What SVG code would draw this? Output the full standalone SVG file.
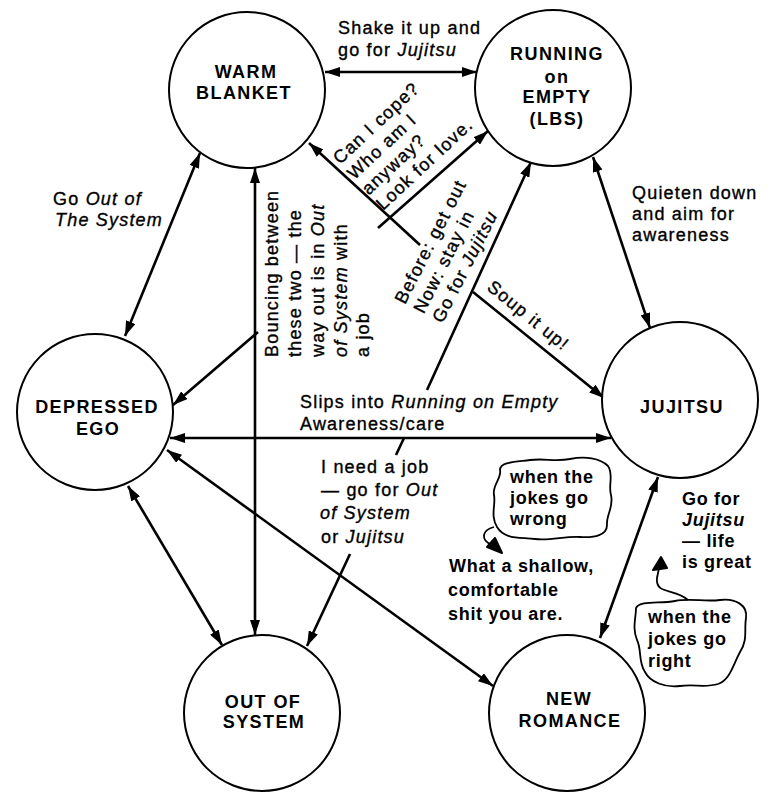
<svg xmlns="http://www.w3.org/2000/svg" width="773" height="792" viewBox="0 0 773 792">
<style>
.bg{fill:#fff}
.node circle{fill:#fff;stroke:#000;stroke-width:2}
.nl{font-family:"Liberation Sans",Arial,Helvetica,sans-serif;font-size:18px;font-weight:bold;letter-spacing:1.4px;text-anchor:middle;fill:#000}
.t{font-family:"Liberation Sans",Arial,Helvetica,sans-serif;font-size:18px;letter-spacing:1.2px;fill:#000;stroke:#000;stroke-width:0.35}
.b{font-weight:bold;stroke-width:0;letter-spacing:0.7px}
.i{font-style:italic}
.conn line,.conn path{stroke:#000;stroke-width:2.6;fill:none}
.cloud{fill:none;stroke:#000;stroke-width:1.8}
.tail{fill:none;stroke:#000;stroke-width:1.8}
.head{fill:#000;stroke:#000;stroke-width:2;stroke-linejoin:round}
</style>
<defs>
<marker id="ah" viewBox="0 0 15 10" refX="15" refY="5" markerWidth="15" markerHeight="10" markerUnits="userSpaceOnUse" orient="auto-start-reverse">
<path d="M0,0 L15,5 L0,10 z" fill="#000"/>
</marker>
</defs>
<rect class="bg" x="0" y="0" width="773" height="792"/>

<g class="conn">
<line x1="325" y1="72" x2="477" y2="72" marker-start="url(#ah)" marker-end="url(#ah)"/>
<line x1="200" y1="153" x2="125" y2="336" marker-start="url(#ah)" marker-end="url(#ah)"/>
<line x1="255" y1="168" x2="255" y2="635" marker-start="url(#ah)" marker-end="url(#ah)"/>
<line x1="309" y1="143" x2="420" y2="245" marker-start="url(#ah)"/>
<line x1="473" y1="292" x2="604" y2="398" marker-end="url(#ah)"/>
<line x1="258" y1="332" x2="173" y2="405" marker-end="url(#ah)"/>
<line x1="378" y1="228" x2="488" y2="131" marker-end="url(#ah)"/>
<line x1="427" y1="390" x2="531" y2="162" marker-end="url(#ah)"/>
<line x1="404" y1="438" x2="396" y2="455"/>
<line x1="350" y1="554" x2="307" y2="646" marker-end="url(#ah)"/>
<line x1="593" y1="157" x2="650" y2="328" marker-start="url(#ah)" marker-end="url(#ah)"/>
<line x1="170" y1="438" x2="611" y2="438" marker-start="url(#ah)" marker-end="url(#ah)"/>
<line x1="167" y1="450" x2="493" y2="686" marker-start="url(#ah)" marker-end="url(#ah)"/>
<line x1="128" y1="486" x2="222" y2="645" marker-start="url(#ah)" marker-end="url(#ah)"/>
<line x1="658" y1="477" x2="600" y2="638" marker-start="url(#ah)" marker-end="url(#ah)"/>
</g>

<g id="warm-blanket" class="node">
<circle cx="247" cy="90" r="78"/>
<text class="nl" x="246" y="78">WARM</text>
<text class="nl" x="244" y="99">BLANKET</text>
</g>
<g id="running-on-empty" class="node">
<circle cx="553" cy="88" r="78"/>
<text class="nl" x="557" y="60">RUNNING</text>
<text class="nl" x="557" y="83">on</text>
<text class="nl" x="557" y="103">EMPTY</text>
<text class="nl" x="557" y="125">(LBS)</text>
</g>
<g id="depressed-ego" class="node">
<circle cx="95" cy="412" r="78"/>
<text class="nl" x="97" y="413">DEPRESSED</text>
<text class="nl" x="98" y="435">EGO</text>
</g>
<g id="jujitsu" class="node">
<circle cx="680" cy="400" r="78"/>
<text class="nl" x="682" y="413">JUJITSU</text>
</g>
<g id="out-of-system" class="node">
<circle cx="262" cy="713" r="78"/>
<text class="nl" x="263" y="708">OUT OF</text>
<text class="nl" x="264" y="728">SYSTEM</text>
</g>
<g id="new-romance" class="node">
<circle cx="567" cy="713" r="78"/>
<text class="nl" x="569" y="705">NEW</text>
<text class="nl" x="570" y="727">ROMANCE</text>
</g>

<g id="labels">
<text class="t" x="338" y="34">Shake it up and</text>
<text class="t" x="338" y="56">go for <tspan class="i">Jujitsu</tspan></text>

<text class="t" x="53" y="205">Go <tspan class="i">Out of</tspan></text>
<text class="t i" x="55" y="226">The System</text>

<text class="t" x="632" y="199">Quieten down</text>
<text class="t" x="632" y="220">and aim for</text>
<text class="t" x="632" y="241">awareness</text>

<g transform="translate(340,165) rotate(-43)">
<text class="t" x="0" y="0">Can I cope?</text>
<text class="t" x="0" y="21">Who am I</text>
<text class="t" x="0" y="42">anyway?</text>
<text class="t" x="0" y="63">Look for love.</text>
</g>

<g transform="translate(405,305) rotate(-63)">
<text class="t" x="0" y="0">Before: get out</text>
<text class="t" x="0" y="21">Now: stay in</text>
<text class="t" x="0" y="42">Go for <tspan class="i">Jujitsu</tspan></text>
</g>

<g transform="translate(278,357) rotate(-90)">
<text class="t" x="0" y="0">Bouncing between</text>
<text class="t" x="0" y="23">these two — the</text>
<text class="t" x="0" y="46">way out is in <tspan class="i">Out</tspan></text>
<text class="t" x="0" y="69"><tspan class="i">of System</tspan> with</text>
<text class="t" x="0" y="91">a job</text>
</g>

<g transform="translate(486,289) rotate(39)">
<text class="t" x="0" y="0">Soup it up!</text>
</g>

<text class="t" x="300" y="408">Slips into <tspan class="i">Running on Empty</tspan></text>
<text class="t" x="300" y="430">Awareness/care</text>

<text class="t" x="321" y="473">I need a job</text>
<text class="t" x="321" y="496">— go for <tspan class="i">Out</tspan></text>
<text class="t i" x="320" y="519">of System</text>
<text class="t" x="321" y="543">or <tspan class="i">Jujitsu</tspan></text>

<text class="t b" x="682" y="505">Go for</text>
<text class="t b i" x="682" y="526">Jujitsu</text>
<text class="t b" x="682" y="547">— life</text>
<text class="t b" x="682" y="568">is great</text>

<text class="t b" x="449" y="572">What a shallow,</text>
<text class="t b" x="448" y="596">comfortable</text>
<text class="t b" x="448" y="620">shit you are.</text>
</g>

<g id="cloud-wrong">
<path class="cloud" d="M497,527 C490,515 496,505 494,495 C492,485 502,478 500,470 C500,462 515,462 530,460 C545,458 555,462 570,459 C585,456 600,458 608,466 C614,475 608,485 611,495 C614,507 606,515 607,525 C607,535 595,538 580,537 C565,536 550,541 535,539 C520,537 505,540 497,527 Z"/>
<path class="tail" d="M494,527 C482,530 480,540 492,545"/>
<polygon class="head" points="487,547 502,553 495,538"/>
<text class="t b" x="510" y="483">when the</text>
<text class="t b" x="510" y="504">jokes go</text>
<text class="t b" x="510" y="525">wrong</text>
</g>

<g id="cloud-right">
<path class="cloud" d="M636,608 C640,600 660,604 675,601 C690,598 705,602 720,600 C735,598 748,605 746,618 C744,630 748,640 740,652 C733,665 730,680 718,684 C705,688 695,684 680,686 C665,688 650,682 645,672 C638,662 642,650 637,640 C632,628 636,618 636,608 Z"/>
<path class="tail" d="M688,600 C675,588 655,595 657,578 L659,568"/>
<polygon class="head" points="653,570 661,557 667,568"/>
<text class="t b" x="648" y="623">when the</text>
<text class="t b" x="648" y="645">jokes go</text>
<text class="t b" x="648" y="667">right</text>
</g>
</svg>
